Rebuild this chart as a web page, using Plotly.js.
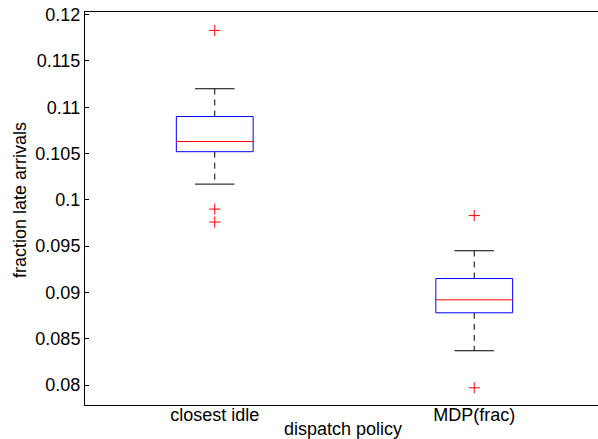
<!DOCTYPE html>
<html>
<head>
<meta charset="utf-8">
<script src="https://cdn.plot.ly/plotly-3.0.1.min.js"></script>
<style>
  html, body { margin: 0; padding: 0; background: #fff; }
  #chart { width: 598px; height: 439px; }
</style>
</head>
<body>
<div id="chart"></div>
<script>
// Box-plot statistics per dispatch policy
const categories = ['closest idle', 'MDP(frac)'];
const lowerWhisker = [0.1017, 0.0837];
const q1 = [0.1052, 0.0878];
const medians = [0.1063, 0.0892];
const q3 = [0.1090, 0.0915];
const upperWhisker = [0.1120, 0.0945];
const outliersClosestIdle = [0.1183, 0.0990, 0.0976];
const outliersMdpFrac = [0.0983, 0.0797];
const yTickVals = [0.08, 0.085, 0.09, 0.095, 0.1, 0.105, 0.11, 0.115, 0.12];
const yTickText = ['0.08', '0.085', '0.09', '0.095', '0.1', '0.105', '0.11', '0.115', '0.12'];

const outliers = [outliersClosestIdle, outliersMdpFrac];
const boxHalf = 0.148;
const capHalf = 0.076;
const traces = [];

const base = { type: 'scatter', mode: 'lines', hoverinfo: 'skip', showlegend: false };

categories.forEach((name, i) => {
  const p = i + 1;
  // upper and lower dashed whiskers
  traces.push(Object.assign({}, base, {
    x: [p, p], y: [q3[i], upperWhisker[i]],
    line: { color: '#000', width: 1, dash: '6px,5px' }
  }));
  traces.push(Object.assign({}, base, {
    x: [p, p], y: [q1[i], lowerWhisker[i]],
    line: { color: '#000', width: 1, dash: '6px,5px' }
  }));
  // whisker caps
  traces.push(Object.assign({}, base, {
    x: [p - capHalf, p + capHalf], y: [upperWhisker[i], upperWhisker[i]],
    line: { color: '#000', width: 1 }
  }));
  traces.push(Object.assign({}, base, {
    x: [p - capHalf, p + capHalf], y: [lowerWhisker[i], lowerWhisker[i]],
    line: { color: '#000', width: 1 }
  }));
  // interquartile box
  traces.push(Object.assign({}, base, {
    x: [p - boxHalf, p + boxHalf, p + boxHalf, p - boxHalf, p - boxHalf],
    y: [q1[i], q1[i], q3[i], q3[i], q1[i]],
    line: { color: '#0000ff', width: 1 }
  }));
  // median
  traces.push(Object.assign({}, base, {
    x: [p - boxHalf, p + boxHalf], y: [medians[i], medians[i]],
    line: { color: '#ff0000', width: 1 }
  }));
  // outliers
  traces.push({
    type: 'scatter', mode: 'markers', hoverinfo: 'skip', showlegend: false,
    x: outliers[i].map(() => p), y: outliers[i],
    marker: { symbol: 'cross-thin', size: 8, line: { color: '#ff0000', width: 1 } }
  });
});

const layout = {
  width: 598, height: 439,
  margin: { l: 85, r: 0, t: 12, b: 34 },
  paper_bgcolor: '#fff', plot_bgcolor: '#fff',
  font: { family: 'Liberation Sans, Arial, sans-serif', size: 18, color: '#000' },
  xaxis: {
    range: [0.5, 2.477],
    tickvals: [1, 2], ticktext: categories,
    ticks: '', ticklabelstandoff: -7,
    showgrid: false, zeroline: false,
    showline: true, linecolor: '#000', linewidth: 1, mirror: true,
    automargin: false
  },
  yaxis: {
    range: [0.07784, 0.12029],
    tickvals: yTickVals, ticktext: yTickText,
    ticks: 'inside', ticklen: 4, tickcolor: '#000',
    showgrid: false, zeroline: false,
    showline: true, linecolor: '#000', linewidth: 1,
    automargin: false
  },
  annotations: [
    {
      text: 'dispatch policy', showarrow: false,
      xref: 'paper', yref: 'paper', x: 0.503, y: -0.0623,
      xanchor: 'center', yanchor: 'middle', font: { size: 18 }
    },
    {
      text: 'fraction late arrivals', showarrow: false, textangle: -90,
      xref: 'paper', yref: 'paper', x: -0.1267, y: 0.5216,
      xanchor: 'center', yanchor: 'middle', font: { size: 18 }
    }
  ]
};

Plotly.newPlot('chart', traces, layout, { displayModeBar: false, staticPlot: true });
</script>
</body>
</html>
